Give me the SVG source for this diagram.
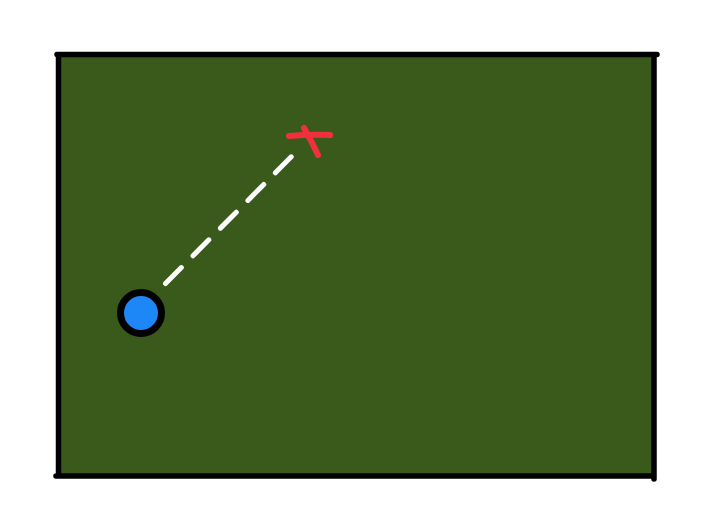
<svg xmlns="http://www.w3.org/2000/svg" width="712" height="524" viewBox="0 0 712 524">
<style>
.edge{stroke:#000;stroke-width:5.5;stroke-linecap:round;fill:none}
.x{stroke:#f0303c;stroke-width:6;stroke-linecap:round;fill:none}
</style>
<rect width="712" height="524" fill="#fff"/>
<g id="field">
<rect x="58.5" y="55.5" width="595" height="420" fill="#3a5a1c"/>
<path class="edge" d="M57 54.5 L657 54.5 M654 54.5 L654 479 M56 476 L654 476 M58.5 54.5 L58.5 476"/>
</g>
<g id="connectors">
<line x1="165.5" y1="283.5" x2="293" y2="155" stroke="#fff" stroke-width="5" stroke-linecap="round" stroke-dasharray="22.5 16.5"/>
</g>
<g id="player">
<circle cx="141" cy="313" r="20.5" fill="#1e87f8" stroke="#000" stroke-width="7"/>
</g>
<g id="target">
<path class="x" d="M289 136 Q310 134 330 135 M304 128 Q312 142 318 155"/>
</g>
</svg>
